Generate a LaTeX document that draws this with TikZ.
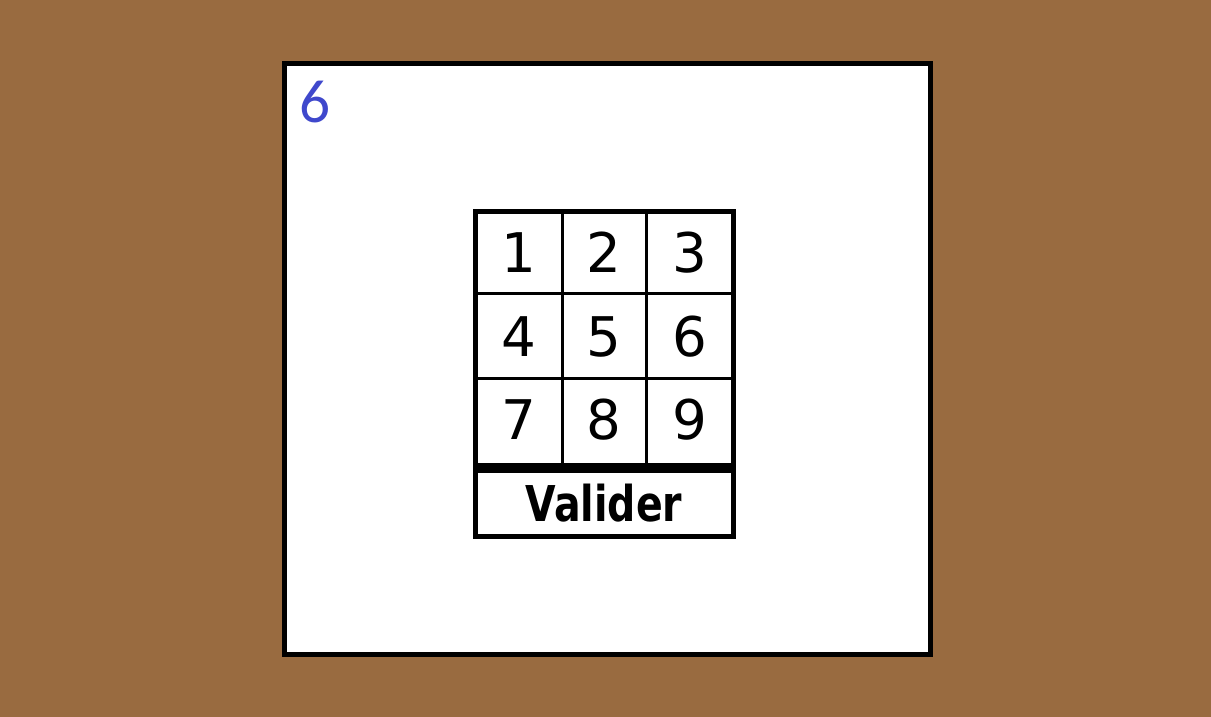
\documentclass[tikz,border=0pt]{standalone}
\usepackage{fontspec}
\usepackage{graphicx}
\setmainfont{DejaVu Sans}
\newfontfamily\blueface{Carlito}
\definecolor{bgbrown}{RGB}{153,107,64}
\definecolor{numblue}{RGB}{63,72,204}
\tikzset{
  framebox/.style={draw=black, line width=3.75pt, fill=white},
  gridouter/.style={draw=black, line width=3.4pt},
  gridinner/.style={draw=black, line width=2.25pt},
  gridsep/.style={draw=black, line width=7.5pt},
  digit/.style={inner sep=0pt, font=\fontsize{41}{41}\selectfont},
  validtext/.style={inner sep=0pt, font=\fontsize{37}{37}\selectfont\bfseries},
  cornernum/.style={inner sep=0pt, text=numblue, font=\blueface\fontsize{46}{46}\selectfont}
}
\begin{document}
\begin{tikzpicture}[x=0.75pt,y=-0.75pt]
\fill[bgbrown] (0,0) rectangle (1211,717);
\useasboundingbox (0,0) rectangle (1211,717);
% outer frame
\draw[framebox] (284.5,63.5) rectangle (930.5,654.5);
\node[cornernum] (corner) at (315.5,102.5) {6};
% grid lines
\draw[gridinner] (562,211.5) -- (562,463);
\draw[gridinner] (646,211.5) -- (646,463);
\draw[gridinner] (475.5,293.5) -- (733.5,293.5);
\draw[gridinner] (475.5,378) -- (733.5,378);
\draw[gridsep] (475.5,467.7) -- (733.5,467.7);
\draw[gridouter] (475.5,211.5) rectangle (733.5,536.5);
% digits
\node[digit] (d1) at (519,252.5) {1};
\node[digit] (d2) at (604,252.5) {2};
\node[digit] (d3) at (689.5,252.5) {3};
\node[digit] (d4) at (519,336.5) {4};
\node[digit] (d5) at (604,336.5) {5};
\node[digit] (d6) at (689.5,336.5) {6};
\node[digit] (d7) at (519,419.5) {7};
\node[digit] (d8) at (604,419.5) {8};
\node[digit] (d9) at (689.5,419.5) {9};
\node[validtext] (valider) at (604,503) {\scalebox{0.8}[1]{Valider}};
\end{tikzpicture}
\end{document}
